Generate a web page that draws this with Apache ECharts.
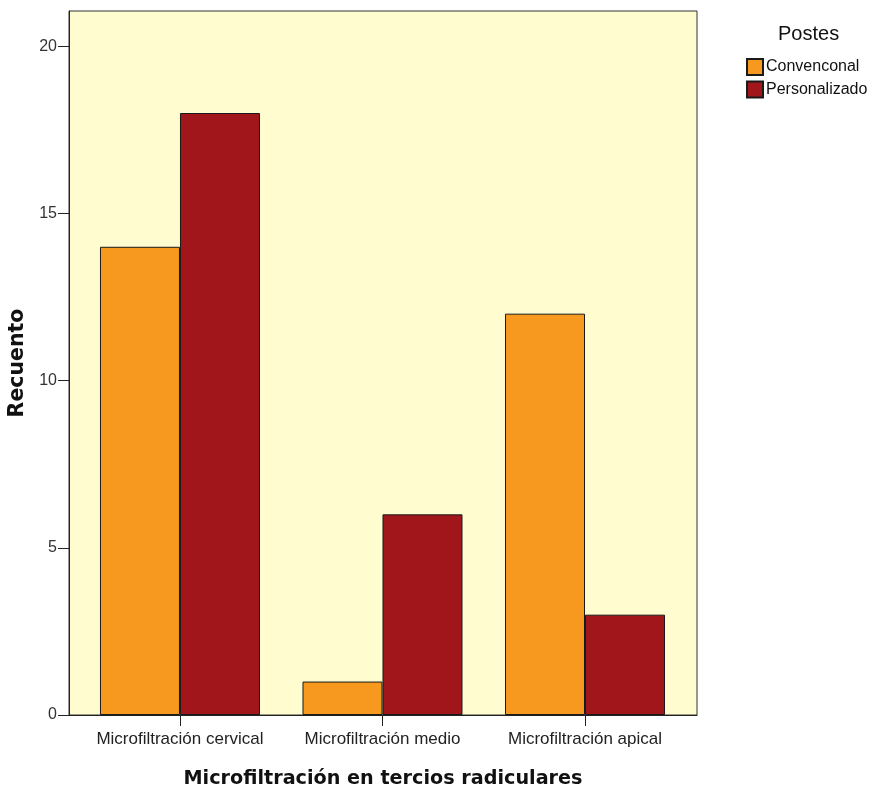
<!DOCTYPE html>
<html>
<head>
<meta charset="utf-8">
<script src="https://cdn.jsdelivr.net/npm/echarts@6/dist/echarts.min.js"></script>
<style>html,body{margin:0;padding:0;background:#fff}#c{width:872px;height:792px}</style>
</head>
<body>
<div id="c"></div>
<script>
const categories = ['Microfiltración cervical', 'Microfiltración medio', 'Microfiltración apical'];
const convencional = [14, 1, 12];
const personalizado = [18, 6, 3];
const seriesNames = ['Convenconal', 'Personalizado'];
const yTicks = [0, 5, 10, 15, 20];
const xTicks = [0, 1, 2];

const chart = echarts.init(document.getElementById('c'), null, {renderer: 'canvas'});
const font = 'Liberation Sans';
const boldFont = 'DejaVu Sans';
chart.setOption({
  backgroundColor: '#ffffff',
  animation: false,
  grid: {
    left: 69, right: 175, top: 11, bottom: 77,
    outerBoundsMode: 'none', containLabel: false,
    show: true, backgroundColor: '#FFFDCF', borderColor: '#333', borderWidth: 1
  },
  legend: {
    orient: 'vertical', left: 746, top: 58, padding: 0,
    itemWidth: 16, itemHeight: 16, itemGap: 4.5,
    icon: 'rect',
    textStyle: {fontFamily: font, fontSize: 16, lineHeight: 16, color: '#111', padding: [0,0,0,-2]},
    data: seriesNames
  },
  title: {
    text: 'Postes', left: 773, top: 19,
    textStyle: {fontFamily: font, fontSize: 20, fontWeight: 'normal', color: '#111'}
  },
  xAxis: {
    type: 'value',
    min: -0.548, max: 2.553,
    name: 'Microfiltración en tercios radiculares',
    nameLocation: 'middle', nameGap: 55,
    nameTextStyle: {fontFamily: boldFont, fontSize: 19.2, fontWeight: 'bold', color: '#111'},
    splitLine: {show: false},
    axisLine: {show: true, onZero: false, lineStyle: {color: '#222', width: 1}},
    axisTick: {show: true, customValues: xTicks, length: 11, inside: false, lineStyle: {color: '#222'}},
    axisLabel: {
      customValues: xTicks, margin: 16,
      fontFamily: font, fontSize: 17, color: '#222',
      formatter: v => categories[Math.round(v)]
    }
  },
  yAxis: {
    type: 'value',
    min: 0, max: 21.05,
    name: 'Recuento',
    nameLocation: 'middle', nameGap: 36,
    nameTextStyle: {fontFamily: boldFont, fontSize: 20.5, fontWeight: 'bold', color: '#111'},
    splitLine: {show: false},
    axisLine: {show: true, onZero: false, lineStyle: {color: '#222', width: 1}},
    axisTick: {show: true, customValues: yTicks, length: 11, lineStyle: {color: '#222'}},
    axisLabel: {customValues: yTicks, margin: 12, fontFamily: font, fontSize: 16, color: '#333'}
  },
  series: [
    {
      name: seriesNames[0], type: 'bar', barWidth: 80, barGap: '0%',
      itemStyle: {color: '#F7991E', borderColor: '#1a1a1a', borderWidth: 1},
      data: convencional.map((v, i) => [i, v])
    },
    {
      name: seriesNames[1], type: 'bar', barWidth: 80, barGap: '0%',
      itemStyle: {color: '#A0161A', borderColor: '#1a1a1a', borderWidth: 1},
      data: personalizado.map((v, i) => [i, v])
    }
  ]
});
</script>
</body>
</html>
